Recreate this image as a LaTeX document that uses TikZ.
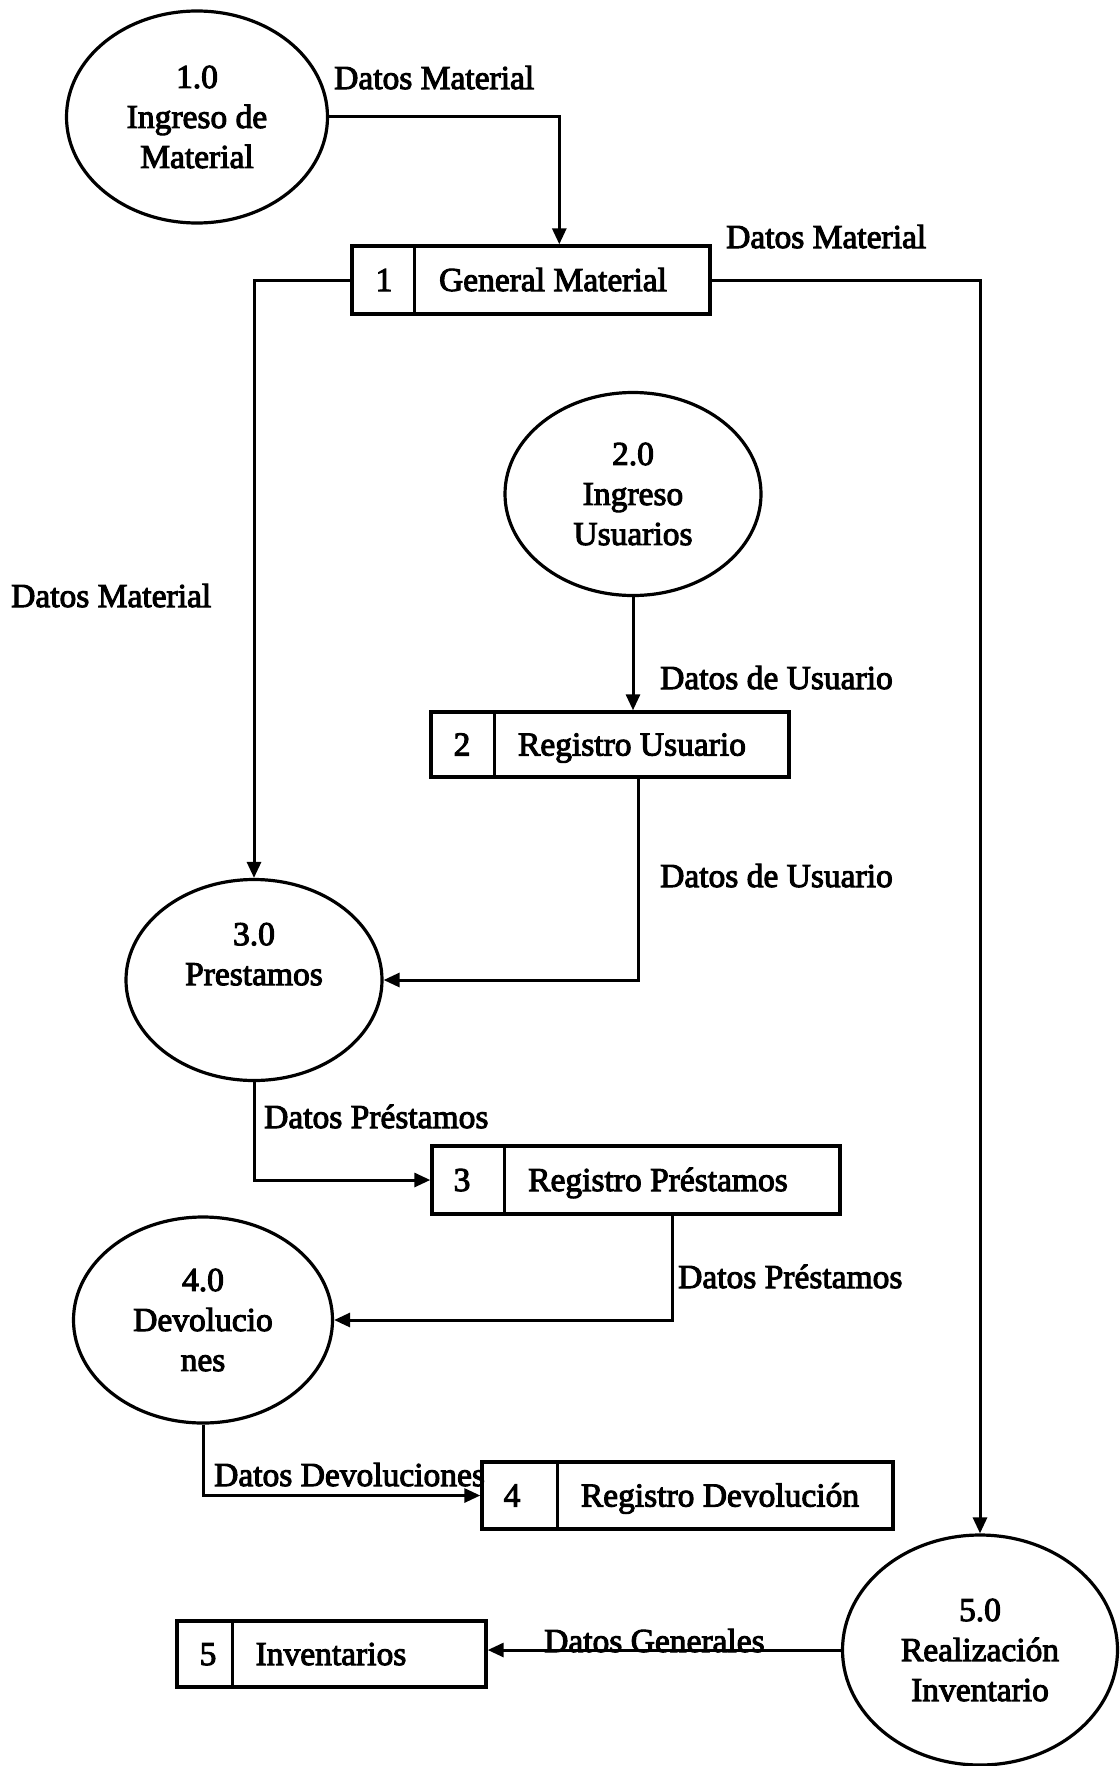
\documentclass[tikz,border=0pt]{standalone}
\usepackage{fontspec}
\setmainfont{Liberation Serif}[FakeBold=3]
\usetikzlibrary{shapes.geometric,arrows.meta,calc}
\begin{document}
\begin{tikzpicture}[x=1pt,y=-1pt,
  every node/.style={font=\fontsize{33.5}{40}\selectfont},
  proc/.style={draw, ellipse, line width=3.2pt, inner sep=0pt, align=center},
  store/.style={draw, rectangle, line width=3.4pt, inner sep=0pt},
  sttxt/.style={inner sep=0pt, text height=22pt, text depth=0pt},
  lbl/.style={sttxt, anchor=west},
  flow/.style={line width=3pt, -{Triangle[length=16pt,width=14pt]}},
  divider/.style={line width=3pt}]

\path[use as bounding box, fill=white] (0,0) rectangle (1119,1766);

% processes
\node[proc, minimum width=261pt, minimum height=212pt] (E1) at (197,117) {1.0\\Ingreso de\\Material};
\node[proc, minimum width=256pt, minimum height=203pt] (E2) at (633,494) {2.0\\Ingreso\\Usuarios};
\node[proc, minimum width=256pt, minimum height=201pt] (E3) at (254,980) {3.0\\Prestamos\\\strut};
\node[proc, minimum width=259pt, minimum height=206pt] (E4) at (203,1320) {4.0\\Devolucio\\nes};
\node[proc, minimum width=275pt, minimum height=230pt] (E5) at (980,1650) {5.0\\Realización\\Inventario};

% data stores
\node[store, minimum width=358pt, minimum height=68pt] (S1) at (531,280) {};
\node[sttxt] (S1n) at (384,280) {1};
\node[sttxt] (S1t) at (553,280) {General Material};
\draw[divider] ([xshift=64pt]S1.north west) -- ([xshift=64pt]S1.south west);

\node[store, minimum width=358pt, minimum height=65pt] (S2) at (610,744.5) {};
\node[sttxt] (S2n) at (462,744.5) {2};
\node[sttxt] (S2t) at (632,744.5) {Registro Usuario};
\draw[divider] ([xshift=65pt]S2.north west) -- ([xshift=65pt]S2.south west);

\node[store, minimum width=408pt, minimum height=68pt] (S3) at (636,1180) {};
\node[sttxt] (S3n) at (462,1180) {3};
\node[sttxt] (S3t) at (658,1180) {Registro Préstamos};
\draw[divider] ([xshift=74pt]S3.north west) -- ([xshift=74pt]S3.south west);

\node[store, minimum width=411pt, minimum height=67pt] (S4) at (687.5,1495.5) {};
\node[sttxt] (S4n) at (512,1495.5) {4};
\node[sttxt] (S4t) at (720,1495.5) {Registro Devolución};
\draw[divider] ([xshift=77pt]S4.north west) -- ([xshift=77pt]S4.south west);

\node[store, minimum width=309pt, minimum height=66pt] (S5) at (331.5,1654) {};
\node[sttxt] (S5n) at (208,1654) {5};
\node[sttxt] (S5t) at (331,1654) {Inventarios};
\draw[divider] ([xshift=57pt]S5.north west) -- ([xshift=57pt]S5.south west);

% flows
\draw[flow] (E1.east) -| ($(S1.north west)+(209,0)$);
\draw[flow] (S1.east) -| (E5.north);
\draw[flow] (S1.west) -| (E3.north);
\draw[flow] (E2.south) -- (E2.south |- S2.north);
\draw[flow] ($(S2.south west)+(209,0)$) |- (E3.east);
\draw[flow] (E3.south) |- (S3.west);
\draw[flow] ($(S3.south west)+(242,0)$) |- (E4.east);
\draw[flow] (E4.south) |- (S4.west);
\draw[flow] (E5.west) -- (E5.west -| S5.east);

% flow labels
\node[lbl] (L1) at (334,78) {Datos Material};
\node[lbl] (L2) at (726,237) {Datos Material};
\node[lbl] (L3) at (11,596) {Datos Material};
\node[lbl] (L4) at (660,678) {Datos de Usuario};
\node[lbl] (L5) at (660,876) {Datos de Usuario};
\node[lbl] (L6) at (264,1117) {Datos Préstamos};
\node[lbl] (L7) at (678,1277) {Datos Préstamos};
\node[lbl] (L8) at (214,1475) {Datos Devoluciones};
\node[lbl] (L9) at (544,1641) {Datos Generales};
\end{tikzpicture}
\end{document}
